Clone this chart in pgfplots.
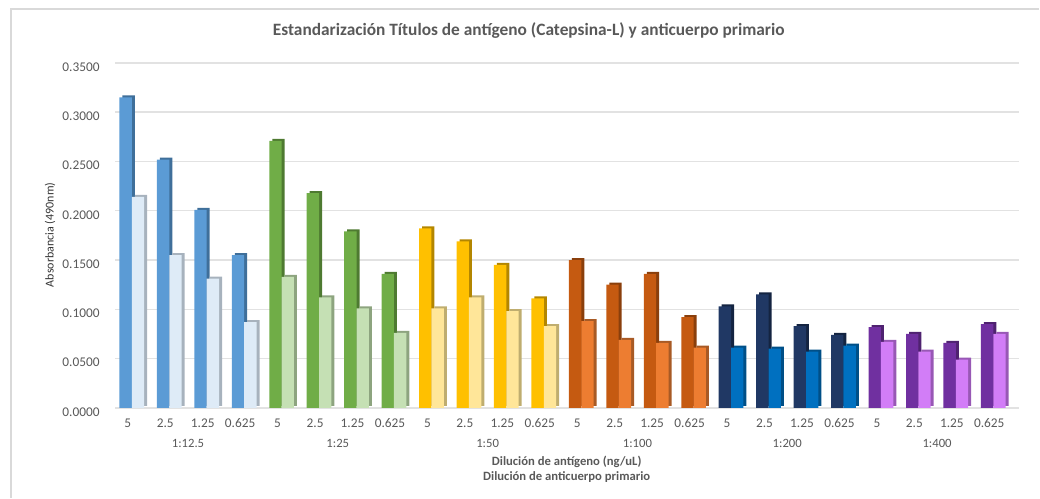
\documentclass[border=0pt]{standalone}
\usepackage{pgfplots}
\pgfplotsset{compat=1.18}
\usepackage{pgfplotstable}
\usepackage{fontspec}
\setmainfont{Carlito}

% front faces and darker side faces of the extruded bars
\definecolor{azulA}{HTML}{5B9BD5}   \definecolor{azulAs}{HTML}{3F6F9A}
\definecolor{azulB}{HTML}{DEEBF7}   \definecolor{azulBs}{HTML}{A7B2BD}
\definecolor{verdeA}{HTML}{70AD47}  \definecolor{verdeAs}{HTML}{4E7A31}
\definecolor{verdeB}{HTML}{C5E0B4}  \definecolor{verdeBs}{HTML}{8DA47F}
\definecolor{oroA}{HTML}{FFC000}    \definecolor{oroAs}{HTML}{B38600}
\definecolor{oroB}{HTML}{FFE699}    \definecolor{oroBs}{HTML}{BFAD6F}
\definecolor{narA}{HTML}{C55A11}    \definecolor{narAs}{HTML}{8A3F0C}
\definecolor{narB}{HTML}{ED7D31}    \definecolor{narBs}{HTML}{A85A25}
\definecolor{marA}{HTML}{203864}    \definecolor{marAs}{HTML}{142441}
\definecolor{marB}{HTML}{0070C0}    \definecolor{marBs}{HTML}{004F87}
\definecolor{morA}{HTML}{7030A0}    \definecolor{morAs}{HTML}{4F2270}
\definecolor{morB}{HTML}{D27DF7}    \definecolor{morBs}{HTML}{9858B5}
\definecolor{rejilla}{HTML}{E2E2E2}
\definecolor{marco}{HTML}{D9D9D9}
\definecolor{texto}{HTML}{595959}

% absorbance per dilution: dark = first replicate column, light = second
\pgfplotstableread{
x dark light
0 0.315 0.214
1 0.252 0.155
2 0.201 0.131
3 0.155 0.087
}\gA
\pgfplotstableread{
x dark light
4 0.271 0.133
5 0.218 0.112
6 0.179 0.101
7 0.136 0.076
}\gB
\pgfplotstableread{
x dark light
8 0.182 0.101
9 0.169 0.112
10 0.145 0.098
11 0.111 0.083
}\gC
\pgfplotstableread{
x dark light
12 0.150 0.088
13 0.125 0.069
14 0.136 0.066
15 0.092 0.061
}\gD
\pgfplotstableread{
x dark light
16 0.103 0.061
17 0.115 0.060
18 0.083 0.057
19 0.074 0.063
}\gE
\pgfplotstableread{
x dark light
20 0.082 0.067
21 0.075 0.057
22 0.066 0.049
23 0.085 0.075
}\gF

% #1 table, #2/#3 dark front/side, #4/#5 light front/side
\newcommand{\grupo}[5]{%
  \addplot[ybar, bar width=0.33, bar shift=-0.165, fill=#3, draw=none, xshift=2.25pt, yshift=1.5pt] table[x=x,y=dark]{#1};
  \addplot[ybar, bar width=0.33, bar shift=-0.165, fill=#2, draw=none] table[x=x,y=dark]{#1};
  \addplot[ybar, bar width=0.33, bar shift=0.165, fill=#5, draw=none, xshift=2.25pt, yshift=1.5pt] table[x=x,y=light]{#1};
  \addplot[ybar, bar width=0.33, bar shift=0.165, fill=#4, draw=none] table[x=x,y=light]{#1};
}
\newcommand{\dil}[2]{\node[font=\fontsize{9.5}{10}\selectfont, text=texto] at (axis cs:#1,0) [yshift=-27pt] {#2};}

\begin{document}
\begin{tikzpicture}
\path (0,0) rectangle (780pt,373.5pt);
\draw[marco, line width=0.8pt] (8.25pt,0) -- (8.25pt,366.75pt) -- (780pt,366.75pt);

\begin{axis}[
  at={(86.25pt,67.5pt)}, anchor=south west,
  scale only axis, width=678.75pt, height=258.75pt,
  xmin=-0.45, xmax=23.7, ymin=0, ymax=0.35,
  clip=false,
  axis line style={draw=none},
  major tick length=0pt,
  ymajorgrids, grid style={rejilla, line width=1.1pt},
  ytick={0,0.05,0.1,0.15,0.2,0.25,0.3,0.35},
  scaled y ticks=false,
  yticklabel style={/pgf/number format/fixed, /pgf/number format/fixed zerofill,
    /pgf/number format/precision=4, /pgf/number format/assume math mode=true,
    font=\fontsize{10}{11}\selectfont, color=texto, xshift=-8pt, yshift=-3pt},
  xtick={0,...,23},
  xticklabels={5,2.5,1.25,0.625,5,2.5,1.25,0.625,5,2.5,1.25,0.625,5,2.5,1.25,0.625,5,2.5,1.25,0.625,5,2.5,1.25,0.625},
  xticklabel style={font=\fontsize{10}{11}\selectfont, color=texto, xshift=-3pt, yshift=-4.5pt},
]
\grupo{\gA}{azulA}{azulAs}{azulB}{azulBs}
\grupo{\gB}{verdeA}{verdeAs}{verdeB}{verdeBs}
\grupo{\gC}{oroA}{oroAs}{oroB}{oroBs}
\grupo{\gD}{narA}{narAs}{narB}{narBs}
\grupo{\gE}{marA}{marAs}{marB}{marBs}
\grupo{\gF}{morA}{morAs}{morB}{morBs}

\dil{1.5}{1:12.5}
\dil{5.5}{1:25}
\dil{9.5}{1:50}
\dil{13.5}{1:100}
\dil{17.5}{1:200}
\dil{21.5}{1:400}
\end{axis}

\node[font=\bfseries\fontsize{13}{15}\selectfont, text=texto] at (396.75pt,350.25pt)
  {Estandarización Títulos de antígeno (Catepsina-L) y anticuerpo primario};
\node[font=\fontsize{9}{10}\selectfont, text=black!80, rotate=90] at (37.5pt,197.25pt) {Absorbancia (490nm)};
\node[font=\bfseries\fontsize{9.5}{10}\selectfont, text=texto] at (425.25pt,27pt) {Dilución de antígeno (ng/uL)};
\node[font=\bfseries\fontsize{9.5}{10}\selectfont, text=texto] at (425.25pt,15.75pt) {Dilución de anticuerpo primario};
\end{tikzpicture}
\end{document}
